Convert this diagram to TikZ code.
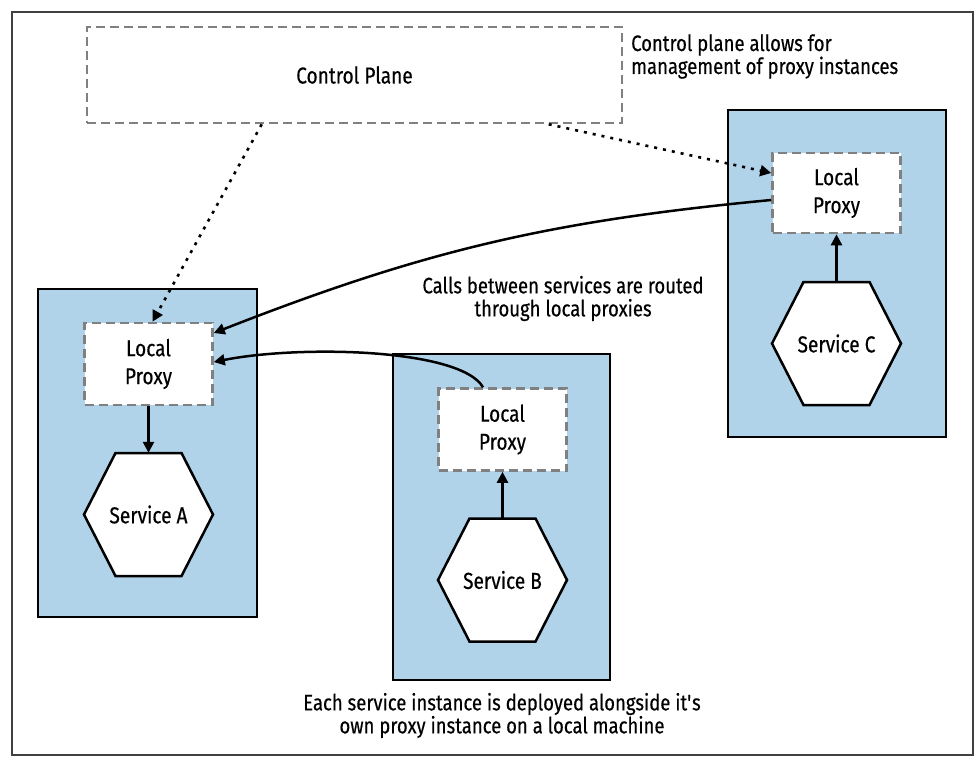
\documentclass[tikz,border=0pt]{standalone}
\usepackage{fontspec}
\setmainfont{Fira Sans}[FakeStretch=0.83,FakeBold=0.4]
\usetikzlibrary{arrows.meta,calc}
\definecolor{boxblue}{RGB}{176,211,234}
\definecolor{dashgray}{RGB}{128,128,128}
\definecolor{framegray}{RGB}{64,64,64}
\newcommand\svchex[3]{%
  \draw[hexline] #2 ++(-64.5,0) -- ++(31.5,-61.5) -- ++(66,0) -- ++(31.5,61.5) -- ++(-31.5,61.5) -- ++(-66,0) -- cycle;
  \node[svc] (#1) at #2 {#3};}
\begin{document}
\begin{tikzpicture}[x=1pt,y=-1pt,
  frame/.style={draw=framegray,line width=1.2pt},
  machine/.style={draw=black,fill=boxblue,line width=2.5pt,inner sep=0pt},
  proxy/.style={draw=dashgray,fill=white,line width=2.6pt,dash pattern=on 9pt off 5pt,inner sep=0pt,align=center,minimum width=128pt,minimum height=82pt,font=\fontsize{23}{28}\selectfont},
  plane/.style={draw=dashgray,fill=white,line width=2.6pt,dash pattern=on 9pt off 5pt,inner sep=0pt,minimum width=535pt,minimum height=96pt,font=\fontsize{23}{28}\selectfont},
  hexline/.style={draw=black,fill=white,line width=2.5pt,line join=miter},
  svc/.style={draw=none,inner sep=0pt,minimum width=129pt,minimum height=123pt,font=\fontsize{23}{28}\selectfont},
  note/.style={inner sep=0pt,font=\fontsize{22.3}{23}\selectfont},
  arr/.style={draw=black,line width=2.5pt,-{Triangle[length=11pt,width=11pt]}},
  dotarr/.style={draw=black,line width=2.6pt,dash pattern=on 3pt off 6pt,-{Triangle[length=11pt,width=11pt]}},
]
\useasboundingbox (0,0) rectangle (979,766);
\draw[frame] (12,12) rectangle (973,755);

% machines
\node[machine,minimum width=219pt,minimum height=328pt] (boxA) at (147.5,453) {};
\node[machine,minimum width=217pt,minimum height=326pt] (boxB) at (501.5,517) {};
\node[machine,minimum width=218pt,minimum height=327pt] (boxC) at (837,273.5) {};

% control plane
\node[plane] (cp) at (354.5,75) {Control Plane};

% proxies
\node[proxy] (pa) at (148.5,364) {Local\\Proxy};
\node[proxy] (pb) at (502.5,429.5) {Local\\Proxy};
\node[proxy,minimum height=80pt] (pc) at (836.5,193) {Local\\Proxy};

% services
\svchex{sa}{(148.5,514.5)}{Service A}
\svchex{sb}{(502.5,580)}{Service B}
\svchex{sc}{(836.5,343.5)}{Service C}

% notes
\node[note,anchor=west,align=left] (n1) at (631,56.5) {Control plane allows for\\management of proxy instances};
\node[note,align=center] (n2) at (563,298.5) {Calls between services are routed\\through local proxies};
\node[note,align=center] (n3) at (502,715.5) {Each service instance is deployed alongside it\textquotesingle s\\own proxy instance on a local machine};

% connectors
\draw[arr] (pa.south) -- (sa.north);
\draw[arr] (sb.north) -- (pb.south);
\draw[arr] (sc.north) -- (pc.south);
\draw[dotarr] ([xshift=176pt]cp.south west) -- ([xshift=4pt]pa.north);
\draw[dotarr] ([xshift=463pt]cp.south west) -- ([yshift=20pt]pc.west);
\draw[arr] ([yshift=-7pt]pc.west) to[bend right=8] ([yshift=31pt]pa.east);
\draw[arr] ([xshift=-19.5pt]pb.north) .. controls +(-23,-39) and +(85,-17) .. ([yshift=2pt]pa.east);
\end{tikzpicture}
\end{document}
